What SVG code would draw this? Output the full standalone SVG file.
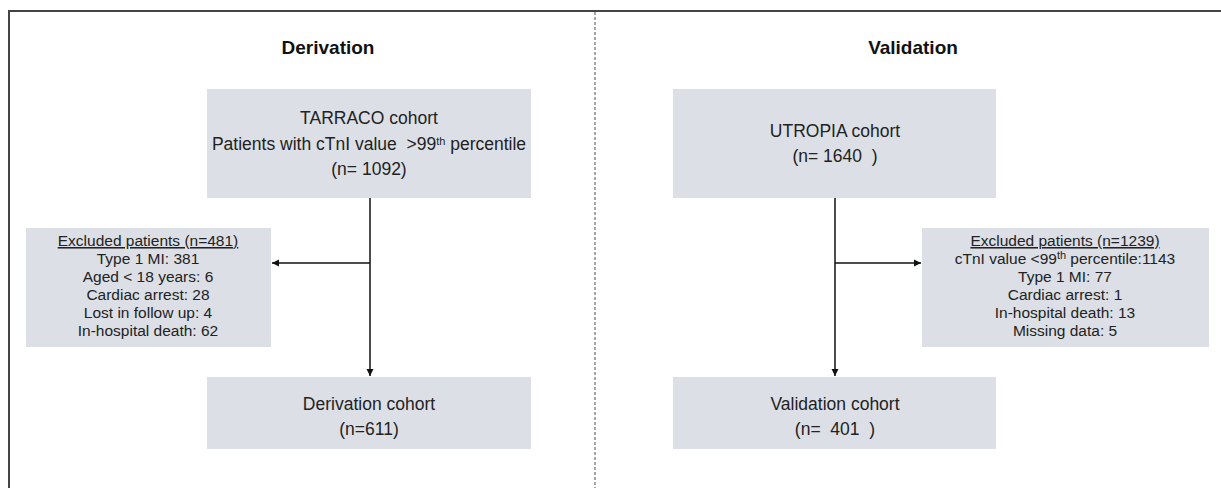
<svg xmlns="http://www.w3.org/2000/svg" width="1221" height="488" viewBox="0 0 1221 488">
<style>
text{white-space:pre}
.box{fill:#dce0e6}
.t{font-family:"Liberation Sans",Arial,sans-serif;font-size:17.5px;fill:#222;text-anchor:middle}
.s{font-family:"Liberation Sans",Arial,sans-serif;font-size:15.5px;fill:#222;text-anchor:middle}
.h{font-family:"Liberation Sans",Arial,sans-serif;font-size:19px;font-weight:bold;fill:#111;text-anchor:middle}
.sup{font-size:11px}
.ln{stroke:#111;stroke-width:1.5;fill:none}
</style>
<defs>
<marker id="ah" markerWidth="8" markerHeight="8" refX="7" refY="4" orient="auto" markerUnits="userSpaceOnUse">
<path d="M0,0.5 L7,4 L0,7.5 Z" fill="#111"/>
</marker>
</defs>
<rect width="1221" height="488" fill="#fff"/>
<g id="frame">
<path d="M9,488 V11 H1221" stroke="#444" stroke-width="2" fill="none"/>
<line x1="595" y1="12" x2="595" y2="488" stroke="#888" stroke-width="1.5" stroke-dasharray="3,2"/>
</g>
<g id="titles">
<text class="h" x="328" y="54">Derivation</text>
<text class="h" x="913" y="54">Validation</text>
</g>
<g id="connectors">
<line class="ln" x1="370" y1="198" x2="370" y2="376" marker-end="url(#ah)"/>
<line class="ln" x1="370" y1="263" x2="272" y2="263" marker-end="url(#ah)"/>
<line class="ln" x1="835" y1="198" x2="835" y2="376" marker-end="url(#ah)"/>
<line class="ln" x1="835" y1="263" x2="921" y2="263" marker-end="url(#ah)"/>
</g>
<g id="tarraco">
<rect class="box" x="207" y="89" width="324" height="109"/>
<text class="t" x="369" y="124">TARRACO cohort</text>
<text class="t" x="369" y="150">Patients with cTnI value  &gt;99<tspan class="sup" dy="-5">th</tspan><tspan dy="5"> percentile</tspan></text>
<text class="t" x="369" y="175">(n= 1092)</text>
</g>
<g id="excluded-left">
<rect class="box" x="26" y="228" width="245" height="119"/>
<text class="s" x="148" y="246" text-decoration="underline">Excluded patients (n=481)</text>
<text class="s" x="148" y="264">Type 1 MI: 381</text>
<text class="s" x="148" y="282">Aged &lt; 18 years: 6</text>
<text class="s" x="148" y="300">Cardiac arrest: 28</text>
<text class="s" x="148" y="318">Lost in follow up: 4</text>
<text class="s" x="148" y="336">In-hospital death: 62</text>
</g>
<g id="derivation-cohort">
<rect class="box" x="207" y="377" width="324" height="72"/>
<text class="t" x="369" y="410">Derivation cohort</text>
<text class="t" x="369" y="435">(n=611)</text>
</g>
<g id="utropia">
<rect class="box" x="673" y="89" width="323" height="109"/>
<text class="t" x="835" y="137">UTROPIA cohort</text>
<text class="t" x="835" y="162">(n= 1640  )</text>
</g>
<g id="excluded-right">
<rect class="box" x="922" y="228" width="287" height="119"/>
<text class="s" x="1065" y="246" text-decoration="underline">Excluded patients (n=1239)</text>
<text class="s" x="1065" y="264">cTnI value &lt;99<tspan class="sup" dy="-5">th</tspan><tspan dy="5"> percentile:1143</tspan></text>
<text class="s" x="1065" y="282">Type 1 MI: 77</text>
<text class="s" x="1065" y="300">Cardiac arrest: 1</text>
<text class="s" x="1065" y="318">In-hospital death: 13</text>
<text class="s" x="1065" y="336">Missing data: 5</text>
</g>
<g id="validation-cohort">
<rect class="box" x="673" y="377" width="323" height="72"/>
<text class="t" x="835" y="410">Validation cohort</text>
<text class="t" x="835" y="435">(n=  401  )</text>
</g>
</svg>
